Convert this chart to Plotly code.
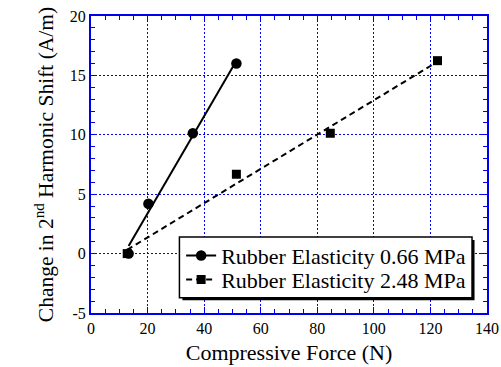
import numpy as np
import plotly.graph_objects as go

# Data
force_066 = [13.3, 20.3, 36.0, 51.4]
shift_066 = [0.0, 4.2, 10.13, 16.0]
force_248 = [12.8, 51.4, 84.6, 122.5]
shift_248 = [0.0, 6.68, 10.13, 16.24]
names = ["Rubber Elasticity 0.66 MPa", "Rubber Elasticity 2.48 MPa"]
x_ticks = [0, 20, 40, 60, 80, 100, 120, 140]
y_ticks = [-5, 0, 5, 10, 15, 20]
y_ticktext = ["-5", "0", "5", "10", "15", "20"]

FONT = "Liberation Serif"
BLUE = "#0000ee"
GRID = "#0000ff"

fig = go.Figure()

def fit(xs, ys):
    k, b = np.polyfit(xs, ys, 1)
    xx = np.array([min(xs), max(xs)])
    return xx, k * xx + b

for xs, ys, dash, sym, sz, nm, lg in [
    (force_066, shift_066, "solid", "circle", 10.5, names[0], "legend"),
    (force_248, shift_248, "6px,4px", "square", 9, names[1], "legend2"),
]:
    fx, fy = fit(xs, ys)
    fig.add_trace(go.Scatter(x=fx, y=fy, mode="lines", showlegend=False,
                             line=dict(color="black", width=2, dash=dash)))
    fig.add_trace(go.Scatter(x=xs, y=ys, mode="markers", showlegend=False,
                             marker=dict(color="black", symbol=sym, size=sz)))
    fig.add_trace(go.Scatter(x=[None], y=[None], mode="lines+markers", name=nm, legend=lg,
                             line=dict(color="black", width=2, dash=dash),
                             marker=dict(color="black", symbol=sym, size=sz)))

axis_common = dict(
    showline=True, linecolor=BLUE, linewidth=2, mirror="allticks",
    ticks="inside", ticklen=6, tickcolor=BLUE, tickwidth=1,
    showgrid=True, gridcolor=GRID, gridwidth=1, griddash="2px,2px",
    zeroline=False, automargin=False,
    tickfont=dict(family=FONT, size=16, color="black"),
)

fig.update_xaxes(range=[0, 140], tickvals=x_ticks,
                 minor=dict(dtick=5, ticks="inside", ticklen=4, tickcolor=BLUE, showgrid=False),
                 title=dict(text="Compressive Force (N)", font=dict(family=FONT, size=22, color="black"), standoff=8),
                 **axis_common)
fig.update_yaxes(range=[-5, 20], tickvals=y_ticks, ticktext=y_ticktext,
                 minor=dict(dtick=1, ticks="inside", ticklen=4, tickcolor=BLUE, showgrid=False),
                 title=dict(text="Change in 2<sup>nd</sup> Harmonic Shift (A/m)", font=dict(family=FONT, size=21.5, color="black"), standoff=10),
                 **axis_common)

# Legend box with drop shadow
fig.add_shape(type="rect", xref="paper", yref="paper", x0=0.2308, x1=0.9685, y0=0.0431, y1=0.2455,
              fillcolor="black", line=dict(width=0), layer="above")
fig.add_shape(type="rect", xref="paper", yref="paper", x0=0.2233, x1=0.9622, y0=0.0515, y1=0.2556,
              fillcolor="white", line=dict(color="black", width=1.5), layer="above")

leg_common = dict(x=0.2276, xanchor="left", yanchor="middle",
                  bgcolor="rgba(0,0,0,0)", borderwidth=0,
                  font=dict(family=FONT, size=22, color="black"), itemwidth=30)

fig.update_layout(
    width=501, height=367,
    margin=dict(l=91, r=14, t=16, b=54, autoexpand=False),
    plot_bgcolor="white", paper_bgcolor="white",
    font=dict(family=FONT, color="black"),
    legend=dict(y=0.1927, **leg_common),
    legend2=dict(y=0.112, **leg_common),
)

fig.write_html("out.html")
